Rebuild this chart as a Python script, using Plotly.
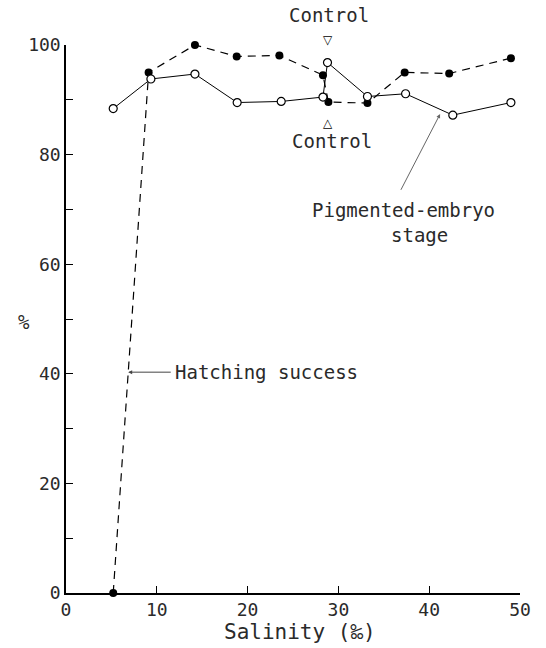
import plotly.graph_objects as go

# Salinity (‰) and percentages for the two series
hatch_salinity = [5.2, 9.1, 14.2, 18.8, 23.5, 28.3, 28.9, 33.2, 37.3, 42.2, 49.0]
hatch_pct = [0, 95.0, 100.0, 97.9, 98.1, 94.5, 89.6, 89.4, 95.0, 94.8, 97.6]

pigment_salinity = [5.2, 9.35, 14.2, 18.85, 23.7, 28.3, 28.8, 33.2, 37.4, 42.6, 49.0]
pigment_pct = [88.4, 93.8, 94.7, 89.5, 89.7, 90.5, 96.8, 90.6, 91.1, 87.2, 89.5]

x_ticks = [0, 10, 20, 30, 40, 50]
y_ticks = [0, 10, 20, 30, 40, 50, 60, 70, 80, 90, 100]
y_tick_text = ["0", "", "20", "", "40", "", "60", "", "80", "", "100"]

FONT = "DejaVu Sans Mono"
INK = "#2a2a2a"

fig = go.Figure()

fig.add_trace(go.Scatter(
    x=hatch_salinity, y=hatch_pct, mode="lines+markers",
    line=dict(color="black", width=1.2, dash="8px,6px"),
    marker=dict(symbol="circle", size=8, color="black"),
    cliponaxis=False, showlegend=False,
))

fig.add_trace(go.Scatter(
    x=pigment_salinity, y=pigment_pct, mode="lines+markers",
    line=dict(color="black", width=1),
    marker=dict(symbol="circle", size=8, color="white",
                line=dict(color="black", width=1.2)),
    cliponaxis=False, showlegend=False,
))

# control labels above and below the curves
fig.add_annotation(x=28.9, xref="x", y=1.009, yref="paper", yanchor="middle",
                   text="▽", showarrow=False,
                   font=dict(family="DejaVu Sans", size=12, color="black"))
fig.add_annotation(x=29.0, xref="x", y=1.055, yref="paper", yanchor="middle",
                   text="Control", showarrow=False,
                   font=dict(family=FONT, size=19, color=INK))
fig.add_annotation(x=28.8, y=85.8, text="△", showarrow=False,
                   font=dict(family="DejaVu Sans", size=12, color="black"))
fig.add_annotation(x=29.3, y=82.5, text="Control", showarrow=False,
                   font=dict(family=FONT, size=19, color=INK))

fig.add_annotation(x=6.85, y=40.3, ax=11.7, ay=40.3, axref="x", ayref="y",
                   showarrow=True, arrowhead=2, arrowsize=0.8, arrowwidth=1,
                   arrowcolor="#444", text="")
fig.add_annotation(x=11.8, y=40.3, text="Hatching success", showarrow=False,
                   xanchor="left", font=dict(family=FONT, size=19, color=INK))

fig.add_annotation(x=41.2, y=87.4, ax=36.8, ay=73.3, axref="x", ayref="y",
                   showarrow=True, arrowhead=2, arrowsize=0.8, arrowwidth=1,
                   arrowcolor="#666", text="")
fig.add_annotation(x=37.2, y=69.9, text="Pigmented-embryo", showarrow=False,
                   font=dict(family=FONT, size=19, color=INK))
fig.add_annotation(x=38.9, y=65.3, text="stage", showarrow=False,
                   font=dict(family=FONT, size=19, color=INK))

# axis titles
fig.add_annotation(x=-0.11, xref="paper", y=49.5, text="%", showarrow=False,
                   font=dict(family=FONT, size=19, color=INK))
fig.add_annotation(x=25.8, xref="x", y=-0.071, yref="paper", yanchor="middle",
                   text="Salinity (‰)", showarrow=False,
                   font=dict(family=FONT, size=21, color=INK))

fig.update_layout(
    width=546, height=648,
    margin=dict(l=66, r=26, t=45, b=55),
    paper_bgcolor="white", plot_bgcolor="white",
    font=dict(family=FONT, size=18, color=INK),
)

fig.update_xaxes(
    range=[0, 50], tickvals=x_ticks, ticks="inside", ticklen=7, tickwidth=1.2,
    tickcolor="black", showline=True, linecolor="black", linewidth=1.5,
    showgrid=False, zeroline=False,
    tickfont=dict(family=FONT, size=18),
)
fig.update_yaxes(
    range=[0, 100], tickvals=y_ticks, ticktext=y_tick_text, ticks="inside",
    ticklen=7, tickwidth=1.2, tickcolor="black", showline=True,
    linecolor="black", linewidth=1.5, showgrid=False, zeroline=False,
    tickfont=dict(family=FONT, size=18),
)

fig.write_html("out.html")
